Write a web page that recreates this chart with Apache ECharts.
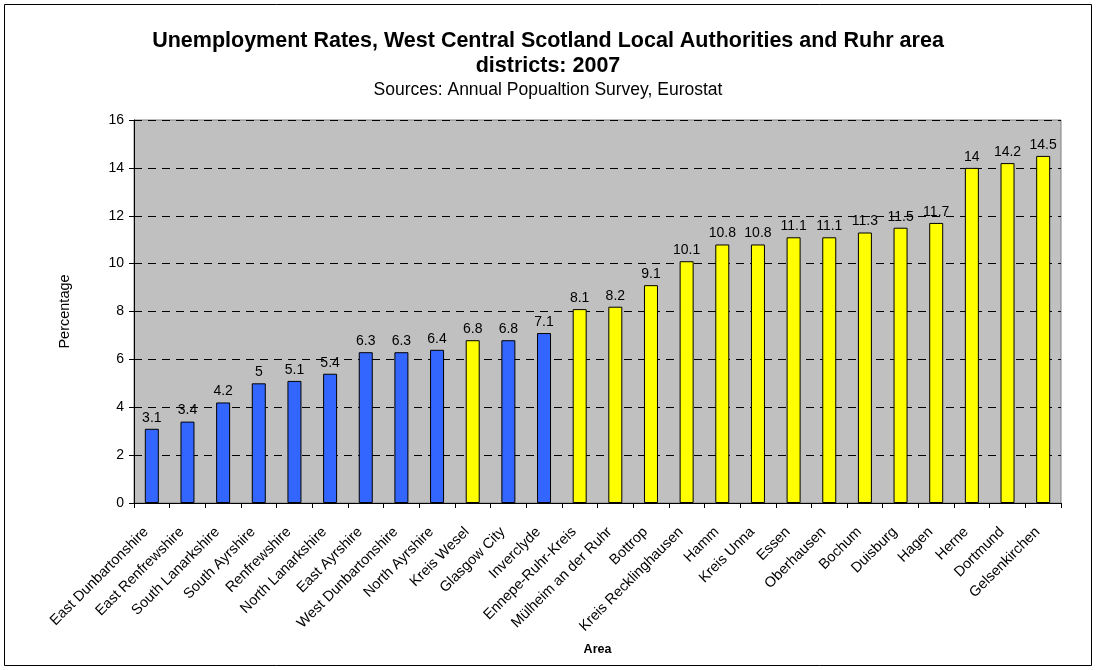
<!DOCTYPE html>
<html><head><meta charset="utf-8">
<script src="https://cdn.jsdelivr.net/npm/echarts@6/dist/echarts.min.js"></script>
<style>html,body{margin:0;padding:0;background:#fff}#c{width:1096px;height:670px}</style>
</head><body><div id="c"></div>
<script>
const categories = ["East Dunbartonshire","East Renfrewshire","South Lanarkshire","South Ayrshire","Renfrewshire","North Lanarkshire","East Ayrshire","West Dunbartonshire","North Ayrshire","Kreis Wesel","Glasgow City","Inverclyde","Ennepe-Ruhr-Kreis","Mülheim an der Ruhr","Bottrop","Kreis Recklinghausen","Hamm","Kreis Unna","Essen","Oberhausen","Bochum","Duisburg","Hagen","Herne","Dortmund","Gelsenkirchen"];
const values = [3.1,3.4,4.2,5,5.1,5.4,6.3,6.3,6.4,6.8,6.8,7.1,8.1,8.2,9.1,10.1,10.8,10.8,11.1,11.1,11.3,11.5,11.7,14,14.2,14.5];
const regions = ["S","S","S","S","S","S","S","S","S","R","S","S","R","R","R","R","R","R","R","R","R","R","R","R","R","R"];
const regionColors = {S:"#3366FF", R:"#FFFF00"};
const yTicks = [0,2,4,6,8,10,12,14,16];

const chart = echarts.init(document.getElementById('c'));
const font = "'Liberation Sans', Arial, sans-serif";
chart.setOption({
  animation:false,
  graphic:[{type:'rect',shape:{x:4.5,y:4.5,width:1087,height:661},style:{fill:null,stroke:'#000',lineWidth:1}}],
  title:[
    {text:"Unemployment Rates, West Central Scotland Local Authorities and Ruhr area\ndistricts: 2007",left:'center',top:24,
     textStyle:{fontFamily:font,fontSize:21.5,fontWeight:'bold',color:'#000',lineHeight:25}},
    {text:"Sources: Annual Popualtion Survey, Eurostat",left:'center',top:76,
     textStyle:{fontFamily:font,fontSize:17.5,fontWeight:'normal',color:'#000'}}
  ],
  grid:{left:134,right:35,top:120,bottom:167,show:true,backgroundColor:'#C0C0C0',borderColor:'#808080',borderWidth:1},
  xAxis:{type:'category',data:categories,name:'Area',nameLocation:'middle',nameGap:140,
    nameTextStyle:{fontFamily:font,fontSize:12.5,fontWeight:'bold',color:'#000'},
    axisLine:{lineStyle:{color:'#000'}},axisTick:{show:true,alignWithLabel:false,length:5,lineStyle:{color:'#000'}},
    axisLabel:{rotate:45,interval:0,fontFamily:font,fontSize:14.5,color:'#000',margin:21,padding:[0,8,0,0]}},
  yAxis:{type:'value',min:0,max:16,interval:2,name:'Percentage',nameLocation:'middle',nameGap:62,
    nameTextStyle:{fontFamily:font,fontSize:14.5,color:'#000'},
    axisLine:{show:true,lineStyle:{color:'#000'}},axisTick:{show:true,length:5,lineStyle:{color:'#000'}},
    axisLabel:{fontFamily:font,fontSize:14,color:'#000',margin:10,formatter:v=>yTicks.includes(v)?String(v):''},
    splitLine:{show:true,lineStyle:{color:'#000',type:[8,6],width:1}}},
  series:[{type:'bar',barWidth:14,
    data:values.map((v,i)=>({value:v,itemStyle:{color:regionColors[regions[i]]}})),
    itemStyle:{borderColor:'#000',borderWidth:1},
    label:{show:true,position:'top',distance:4,fontFamily:font,fontSize:14,color:'#000'}}]
});
</script></body></html>
